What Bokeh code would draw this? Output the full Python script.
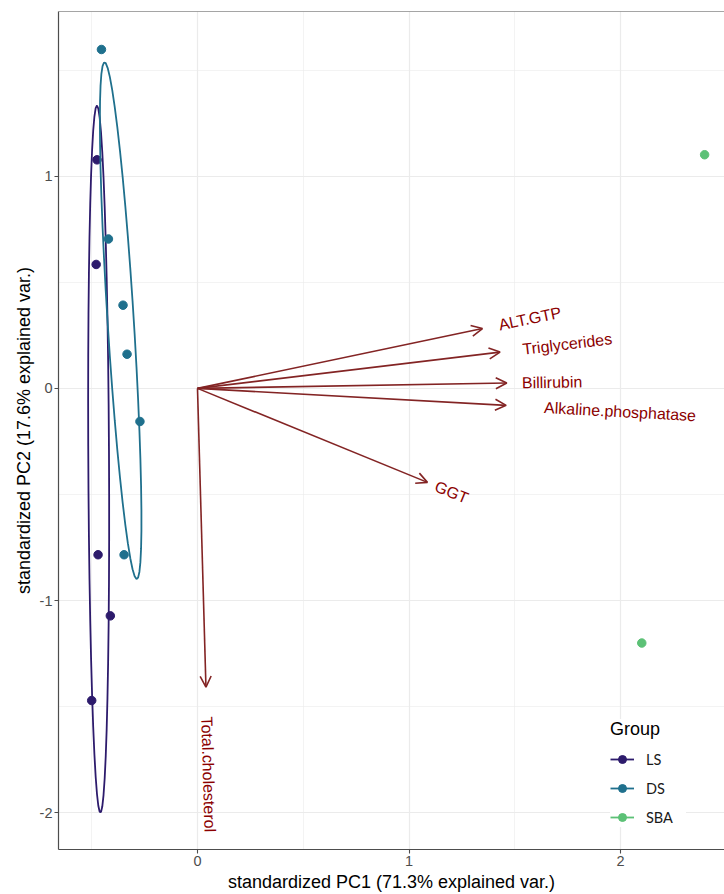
import numpy as np
from bokeh.plotting import figure
from bokeh.models import (ColumnDataSource, Arrow, OpenHead, Legend, LegendItem,
                          FixedTicker, Span)
from bokeh.embed import file_html
from bokeh.resources import INLINE
from bokeh.core.properties import value

# ---------------- data ----------------
groups = ["LS", "DS", "SBA"]
group_colors = ["#2D1B6C", "#1F708D", "#5CC176"]

ls_pc1 = [-0.475, -0.479, -0.470, -0.412, -0.500]
ls_pc2 = [1.077, 0.584, -0.784, -1.072, -1.471]
ds_pc1 = [-0.454, -0.421, -0.352, -0.333, -0.272, -0.347]
ds_pc2 = [1.597, 0.704, 0.392, 0.161, -0.156, -0.784]
sba_pc1 = [2.397, 2.100]
sba_pc2 = [1.101, -1.200]

var_names = ["ALT.GTP", "Triglycerides", "Billirubin", "Alkaline.phosphatase", "GGT", "Total.cholesterol"]
var_pc1 = [1.347, 1.430, 1.462, 1.459, 1.087, 0.040]
var_pc2 = [0.282, 0.171, 0.025, -0.080, -0.443, -1.408]

x_ticks = [0, 1, 2]
y_ticks = [-2, -1, 0, 1]
x_tick_labels = ["0", "1", "2"]
y_tick_labels = ["-2", "-1", "0", "1"]
x_label = "standardized PC1 (71.3% explained var.)"
y_label = "standardized PC2 (17.6% explained var.)"
legend_title = "Group"
ellipse_prob = 0.68
varname_adjust = 1.5

# ---------------- styles ----------------
FONT = "Liberation Sans"
ARROW_COLOR = "#832424"
LABEL_COLOR = "#8B0000"
GRID = "#EBEBEB"
BORDER = "#4D4D4D"
VAR_FONT_PX = 16

W, H = 724, 894
p = figure(width=W, height=H, x_range=(-0.657, 2.491), y_range=(-2.173, 1.776),
           output_backend="svg", toolbar_location=None,
           min_border_left=58, min_border_right=0, min_border_top=11, min_border_bottom=0)
p.outline_line_color = None
p.background_fill_color = "white"


def minor_between(ticks):
    t = np.asarray(ticks, dtype=float)
    step = t[1] - t[0]
    mids = list((t[:-1] + t[1:]) / 2)
    return [t[0] - step / 2] + mids + [t[-1] + step / 2]


p.xaxis.ticker = FixedTicker(ticks=x_ticks, minor_ticks=minor_between(x_ticks))
p.yaxis.ticker = FixedTicker(ticks=y_ticks, minor_ticks=minor_between(y_ticks))
p.xaxis.major_label_overrides = dict(zip(x_ticks, x_tick_labels))
p.yaxis.major_label_overrides = dict(zip(y_ticks, y_tick_labels))

for g in (p.xgrid[0], p.ygrid[0]):
    g.grid_line_color = GRID
    g.grid_line_width = 1.2
    g.minor_grid_line_color = GRID
    g.minor_grid_line_width = 0.6

for ax in (p.xaxis[0], p.yaxis[0]):
    ax.axis_line_color = BORDER
    ax.axis_line_width = 1.2
    ax.major_tick_line_color = BORDER
    ax.major_tick_line_width = 1.1
    ax.major_tick_out = 4
    ax.major_tick_in = 0
    ax.minor_tick_line_color = None
    ax.major_label_text_font = FONT
    ax.major_label_text_font_size = "14.5px"
    ax.major_label_text_color = "#4D4D4D"
    ax.major_label_standoff = 2
    ax.axis_label_text_font = FONT
    ax.axis_label_text_font_size = "18px"
    ax.axis_label_text_font_style = "normal"
    ax.axis_label_text_color = "black"
    ax.axis_label_standoff = 3

p.xaxis.axis_label = x_label
p.yaxis.axis_label = y_label

# top border of the panel
p.add_layout(Span(location=p.y_range.end, dimension="width",
                  line_color=BORDER, line_width=1.2))

# ---------------- ellipses (ggbiplot style) ----------------
theta = np.concatenate([np.linspace(-np.pi, np.pi, 50), np.linspace(np.pi, -np.pi, 50)])
circle = np.column_stack([np.cos(theta), np.sin(theta)])
ed = np.sqrt(-2.0 * np.log(1.0 - ellipse_prob))  # sqrt(qchisq(prob, 2))

group_x = [ls_pc1, ds_pc1, sba_pc1]
group_y = [ls_pc2, ds_pc2, sba_pc2]

legend_items = []
for name, col, gx, gy in zip(groups, group_colors, group_x, group_y):
    gx = np.asarray(gx)
    gy = np.asarray(gy)
    if len(gx) > 2:
        sigma = np.cov(np.vstack([gx, gy]))
        L = np.linalg.cholesky(sigma)
        ell = circle @ L.T * ed + np.array([gx.mean(), gy.mean()])
        lr = p.line(ell[:, 0], ell[:, 1], line_color=col, line_width=1.8)
    else:
        # ggbiplot draws no ellipse for groups of two; keep a line key for the legend
        lr = p.line(x=[np.nan, np.nan], y=[np.nan, np.nan], line_color=col, line_width=1.8)
    sr = p.scatter(gx, gy, size=8.5, fill_color=col, line_color=col)
    legend_items.append(LegendItem(label=name, renderers=[lr, sr]))

# ---------------- variable arrows ----------------
n = len(var_names)
arrow_src = ColumnDataSource(dict(x0=[0.0] * n, y0=[0.0] * n, x1=var_pc1, y1=var_pc2))
p.add_layout(Arrow(end=OpenHead(size=11, line_color=ARROW_COLOR, line_width=1.6),
                   source=arrow_src, x_start="x0", y_start="y0", x_end="x1", y_end="y1",
                   line_color=ARROW_COLOR, line_width=1.6))

# approximate Arial advance widths (per em) to place labels with hjust like ggbiplot
_w = {'A': .667, 'L': .556, 'T': .611, 'G': .778, 'P': .667, 'B': .667, 'a': .556,
      'b': .556, 'c': .5, 'd': .556, 'e': .556, 'g': .556, 'h': .556, 'i': .222,
      'k': .5, 'l': .222, 'n': .556, 'o': .556, 'p': .556, 'r': .333, 's': .5,
      't': .278, 'u': .556, 'y': .5, '.': .278}


def text_width(s):
    return sum(_w.get(ch, .556) for ch in s) * VAR_FONT_PX


angles = [np.arctan(y / x) for x, y in zip(var_pc1, var_pc2)]
shift = [(varname_adjust - 1) / 2 * text_width(s) for s in var_names]
xo = [s * np.cos(a) for s, a in zip(shift, angles)]
yo = [-s * np.sin(a) for s, a in zip(shift, angles)]
lab_src = ColumnDataSource(dict(x=var_pc1, y=var_pc2, text=var_names, angle=angles, xo=xo, yo=yo))
p.text(x="x", y="y", text="text", angle="angle", x_offset="xo", y_offset="yo",
       source=lab_src, text_align="left", text_baseline="middle",
       text_color=LABEL_COLOR, text_font=value(FONT), text_font_size=f"{VAR_FONT_PX}px")

# ---------------- legend ----------------
legend = Legend(items=legend_items, title=legend_title, location=(552, 22),
                title_text_font=FONT, title_text_font_size="18px",
                title_text_font_style="normal", title_text_color="black", title_standoff=9,
                label_text_font="Lato", label_text_font_size="14.5px", label_text_color="#1A1A1A",
                glyph_width=24, glyph_height=20, label_height=20, label_width=40,
                label_standoff=12, spacing=9, padding=15, margin=0,
                border_line_color=None, background_fill_color="white", background_fill_alpha=1.0)
p.add_layout(legend)

open("out.html", "w").write(file_html(p, INLINE))
